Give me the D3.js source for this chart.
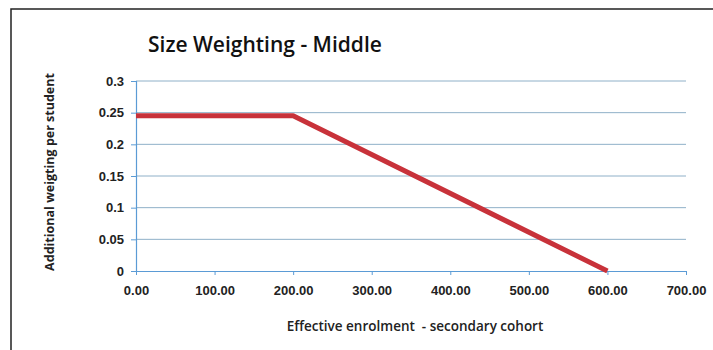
<!DOCTYPE html>
<html>
<head>
<meta charset="utf-8">
<script src="https://cdn.jsdelivr.net/npm/d3@7"></script>
<style>
  body { margin: 0; background: #fff; }
  svg { display: block; font-family: "Open Sans", "Liberation Sans", sans-serif; }
</style>
</head>
<body>
<div id="chart"></div>
<script>
// data
const enrolment = [0, 200, 600];
const weighting = [0.245, 0.245, 0];
const xTicks = [0, 100, 200, 300, 400, 500, 600, 700];
const yTicks = [0, 0.05, 0.1, 0.15, 0.2, 0.25, 0.3];

const w = 713, h = 350;
const margin = { left: 136, right: 27, top: 81, bottom: 79 };

const svg = d3.select("#chart").append("svg")
  .attr("width", w)
  .attr("height", h);

// outer frame
svg.append("rect")
  .attr("x", 11).attr("y", 9)
  .attr("width", w + 10).attr("height", h + 10)
  .attr("fill", "none")
  .attr("stroke", "#222")
  .attr("stroke-width", 1.5);

const x = d3.scaleLinear().domain([0, 700]).range([margin.left, w - margin.right]);
const y = d3.scaleLinear().domain([0, 0.3]).range([h - margin.bottom, margin.top]);

// gridlines
svg.append("g")
  .selectAll("line")
  .data(yTicks.filter(d => d > 0))
  .enter()
  .append("line")
    .attr("x1", x(0)).attr("x2", x(700))
    .attr("y1", d => y(d)).attr("y2", d => y(d))
    .attr("stroke", "#8fb0c8")
    .attr("stroke-width", 1);

// y axis
const yAxis = svg.append("g")
  .attr("transform", `translate(${x(0)},0)`)
  .call(d3.axisLeft(y).tickValues(yTicks).tickSize(5).tickFormat(d => d3.format("")(+d.toFixed(2))));
yAxis.select(".domain").attr("stroke", "#5b9bd5").attr("stroke-width", 1.2);
yAxis.selectAll(".tick line").attr("stroke", "#5b9bd5");
yAxis.selectAll(".tick text")
  .attr("x", -12)
  .style("font-size", "13px").style("font-weight", "bold").attr("fill", "#222");

// x axis
const xAxis = svg.append("g")
  .attr("transform", `translate(0,${y(0)})`)
  .call(d3.axisBottom(x).tickValues(xTicks).tickSize(4).tickSizeOuter(0).tickFormat(d3.format(".2f")));
xAxis.select(".domain").attr("stroke", "#5b9bd5").attr("stroke-width", 1.2);
xAxis.selectAll(".tick line").attr("stroke", "#5b9bd5");
xAxis.selectAll(".tick text")
  .attr("y", 15)
  .style("font-size", "13px").style("font-weight", "bold").attr("fill", "#222");

// the series
const line = d3.line()
  .x((d, i) => x(enrolment[i]))
  .y(d => y(d));

svg.append("path")
  .datum(weighting)
  .attr("d", line)
  .attr("fill", "none")
  .attr("stroke", "#c8323a")
  .attr("stroke-width", 5)
  .attr("stroke-linejoin", "round");

// titles
svg.append("text")
  .attr("x", 148).attr("y", 52)
  .style("font-size", "21px").style("font-weight", "600")
  .attr("fill", "#111")
  .text("Size Weighting - Middle");

svg.append("text")
  .attr("transform", `translate(54,${(y(0) + y(0.3)) / 2 - 4}) rotate(-90)`)
  .attr("text-anchor", "middle")
  .style("font-size", "12.5px").style("font-weight", "bold")
  .attr("fill", "#222")
  .text("Additional weigting per student");

svg.append("text")
  .attr("x", 415).attr("y", 331)
  .attr("text-anchor", "middle")
  .style("font-size", "13.5px").style("font-weight", "600")
  .style("white-space", "pre")
  .attr("fill", "#222")
  .text("Effective enrolment  - secondary cohort");
</script>
</body>
</html>
